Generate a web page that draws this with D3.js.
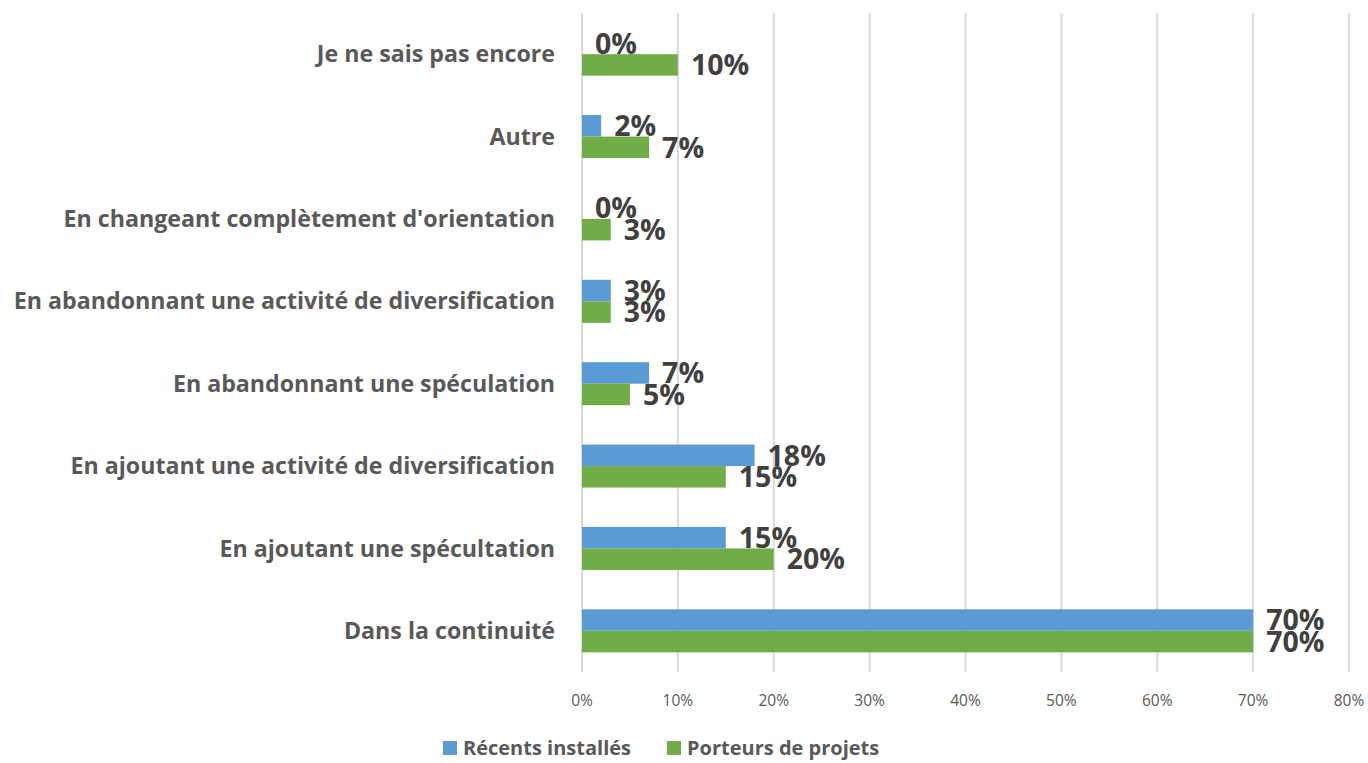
<!DOCTYPE html>
<html>
<head>
<meta charset="utf-8">
<script src="https://cdn.jsdelivr.net/npm/d3@7"></script>
<style>
  body { margin: 0; background: #fff; }
  svg { display: block; font-family: "Open Sans", Lato, sans-serif; }
</style>
</head>
<body>
<svg id="chart" width="1368" height="763"></svg>
<script>
const categories = [
  'Je ne sais pas encore',
  'Autre',
  "En changeant complètement d'orientation",
  'En abandonnant une activité de diversification',
  'En abandonnant une spéculation',
  'En ajoutant une activité de diversification',
  'En ajoutant une spécultation',
  'Dans la continuité'
];
const seriesNames = ['Récents installés', 'Porteurs de projets'];
const recents = [0, 2, 0, 3, 7, 18, 15, 70];
const porteurs = [10, 7, 3, 3, 5, 15, 20, 70];
const ticks = [0, 10, 20, 30, 40, 50, 60, 70, 80];
const colors = ['#5B9BD5', '#70AD47'];

const svg = d3.select('#chart');
const plotLeft = 582, plotRight = 1349, plotTop = 13, plotBottom = 672;

const x = d3.scaleLinear().domain([0, 80]).range([plotLeft, plotRight]);
const y = d3.scaleBand().domain(categories).range([plotTop, plotBottom]).paddingInner(0.478).paddingOuter(0.239);
const ySub = d3.scaleBand().domain([0, 1]).range([0, y.bandwidth()]);

// gridlines
svg.append('g')
  .selectAll('line')
  .data(ticks)
  .join('line')
  .attr('x1', (d) => x(d))
  .attr('x2', (d) => x(d))
  .attr('y1', plotTop)
  .attr('y2', plotBottom)
  .attr('stroke', '#D9D9D9')
  .attr('stroke-width', 2);

// x tick labels
svg.append('g')
  .selectAll('text')
  .data(ticks)
  .join('text')
  .attr('x', (d) => x(d))
  .attr('y', 706)
  .attr('text-anchor', 'middle')
  .attr('font-size', 15.5)
  .attr('fill', '#595959')
  .text((d) => d + '%');

// category labels
svg.append('g')
  .selectAll('text')
  .data(categories)
  .join('text')
  .attr('x', 555)
  .attr('y', (d) => y(d) + y.bandwidth() / 2)
  .attr('dy', '0.35em')
  .attr('text-anchor', 'end')
  .attr('font-size', 23.2)
  .attr('font-weight', 'bold')
  .attr('fill', '#595959')
  .text((d) => d);

const series = [recents, porteurs];
series.forEach((vals, si) => {
  const g = svg.append('g');
  g.selectAll('rect')
    .data(vals)
    .join('rect')
    .attr('x', x(0))
    .attr('y', (d, i) => y(categories[i]) + ySub(si))
    .attr('width', (d) => x(d) - x(0))
    .attr('height', ySub.bandwidth())
    .attr('fill', colors[si]);

  g.selectAll('text')
    .data(vals)
    .join('text')
    .attr('x', (d) => x(d) + 13)
    .attr('y', (d, i) => y(categories[i]) + ySub(si) + ySub.bandwidth() / 2)
    .attr('dy', '0.36em')
    .attr('font-size', 28.5)
    .attr('font-weight', 'bold')
    .attr('fill', '#404040')
    .text((d) => d + '%');
});

// legend
const legend = svg.append('g');
const legendX = [443, 667];
seriesNames.forEach((name, i) => {
  legend.append('rect')
    .attr('x', legendX[i])
    .attr('y', 741)
    .attr('width', 14)
    .attr('height', 14)
    .attr('fill', colors[i]);
  legend.append('text')
    .attr('x', legendX[i] + 20)
    .attr('y', 748)
    .attr('dy', '0.35em')
    .attr('font-size', 20)
    .attr('font-weight', 'bold')
    .attr('fill', '#595959')
    .text(name);
});
</script>
</body>
</html>
